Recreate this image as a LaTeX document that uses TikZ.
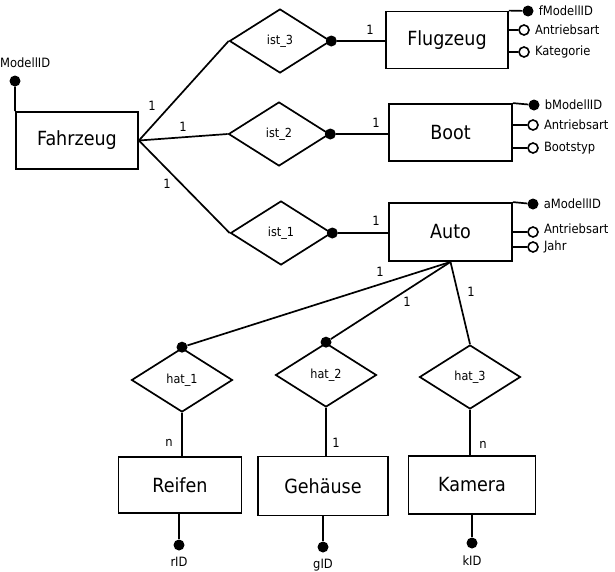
\documentclass[tikz,border=0pt]{standalone}
\usepackage{fontspec}
\setmainfont{DejaVu Sans Condensed}
\usetikzlibrary{shapes.geometric,positioning,calc}

\tikzset{
	entity/.style={draw,line width=1.8pt,inner sep=0,minimum width=122pt,minimum height=57pt,font=\fontsize{19.5}{22}\selectfont},
	relation/.style={draw,diamond,line width=1.7pt,inner sep=0,minimum width=101pt,minimum height=64pt,font=\fontsize{12.5}{14}\selectfont},
	keydot/.style={circle,fill,inner sep=0,minimum size=11pt},
	attdot/.style={circle,draw,fill=white,line width=1.6pt,inner sep=0,minimum size=10pt},
	attlabel/.style={font=\fontsize{12.8}{15}\selectfont,inner sep=0},
	card/.style={font=\fontsize{12.8}{15}\selectfont,inner sep=0},
	conn/.style={line width=1.7pt}
}

\begin{document}
\begin{tikzpicture}[x=1pt,y=-1pt]
	\useasboundingbox (0,0) rectangle (615,571);

	%entities
	\node[entity] (fahrzeug) at (77,140.5) {Fahrzeug};
	\node[entity] (flugzeug) at (447,40) {Flugzeug};
	\node[entity,minimum width=123pt] (boot) at (450.5,132.5) {Boot};
	\node[entity,minimum width=123pt,minimum height=58pt] (auto) at (450.5,232) {Auto};
	\node[entity,minimum width=123pt,minimum height=56pt] (reifen) at (180,485) {Reifen};
	\node[entity,minimum width=130pt,minimum height=59pt] (gehaeuse) at (323,486) {Gehäuse};
	\node[entity,minimum width=127pt,minimum height=58pt] (kamera) at (472,485) {Kamera};

	%relations
	\node[relation] (ist3) at (280,41) {ist\_3};
	\node[relation] (ist2) at (279,134) {ist\_2};
	\node[relation] (ist1) at (281,233) {ist\_1};
	\node[relation] (hat1) at (182,380) {hat\_1};
	\node[relation] (hat2) at (326,375) {hat\_2};
	\node[relation] (hat3) at (470,377) {hat\_3};

	%Fahrzeug - ist
	\draw[conn] (fahrzeug.east) -- (ist3.west);
	\draw[conn] (fahrzeug.east) -- (ist2.west);
	\draw[conn] (fahrzeug.east) -- (ist1.west);
	\node[card] at (152,106) {1};
	\node[card] at (183,127) {1};
	\node[card] at (167,184) {1};

	%ist - subtypes
	\node[keydot] (d3) at (ist3.east) {};
	\node[keydot] (d2) at (ist2.east) {};
	\node[keydot] (d1) at (ist1.east) {};
	\draw[conn] (d3) -- (d3 -| flugzeug.west);
	\draw[conn] (d2) -- (d2 -| boot.west);
	\draw[conn] (d1) -- (d1 -| auto.west);
	\node[card] at (370,30) {1};
	\node[card] at (376,123) {1};
	\node[card] at (376,221) {1};

	%Auto - hat
	\node[keydot] (h1) at (hat1.north) {};
	\node[keydot] (h2) at (hat2.north) {};
	\draw[conn] (auto.south) -- (h1);
	\draw[conn] (auto.south) -- (h2);
	\draw[conn] (auto.south) -- (hat3.north);
	\node[card] at (380,272) {1};
	\node[card] at (407,302) {1};
	\node[card] at (471,292) {1};

	%hat - parts
	\draw[conn] (hat1.south) -- (hat1.south |- reifen.north);
	\draw[conn] (hat2.south) -- (hat2.south |- gehaeuse.north);
	\draw[conn] (hat3.south) -- (hat3.south |- kamera.north);
	\node[card] at (169,443) {n};
	\node[card] at (336,443) {1};
	\node[card] at (483,445) {n};

	%Fahrzeug attributes
	\node[keydot] (mid) at (15,81) {};
	\draw[conn] (mid) -- (fahrzeug.north west);
	\node[attlabel,anchor=west] at (0,63) {ModellID};

	%Flugzeug attributes
	\node[keydot] (fid) at (528,11) {};
	\node[attdot] (fant) at (524,30) {};
	\node[attdot] (fkat) at (524,52) {};
	\draw[conn] (flugzeug.north east) -- (fid);
	\draw[conn] (fant) -- (fant -| flugzeug.east);
	\draw[conn] (fkat) -- (fkat -| flugzeug.east);
	\node[attlabel,right=5pt of fid] {fModellID};
	\node[attlabel,right=5pt of fant] {Antriebsart};
	\node[attlabel,right=5pt of fkat] {Kategorie};

	%Boot attributes
	\node[keydot] (bid) at (534,105) {};
	\node[attdot] (bant) at (533,125) {};
	\node[attdot] (btyp) at (533,148) {};
	\draw[conn] (boot.north east) -- (bid);
	\draw[conn] (bant) -- (bant -| boot.east);
	\draw[conn] (btyp) -- (btyp -| boot.east);
	\node[attlabel,right=5pt of bid] {bModellID};
	\node[attlabel,right=5pt of bant] {Antriebsart};
	\node[attlabel,right=5pt of btyp] {Bootstyp};

	%Auto attributes
	\node[keydot] (aid) at (533,204) {};
	\node[attdot] (aant) at (533,232) {};
	\node[attdot] (ajahr) at (533,247) {};
	\draw[conn] (auto.north east) -- (aid);
	\draw[conn] (aant) -- (aant -| auto.east);
	\draw[conn] (ajahr) -- (ajahr -| auto.east);
	\node[attlabel,right=5pt of aid] {aModellID};
	\node[attlabel,right=5pt of aant,yshift=3pt] {Antriebsart};
	\node[attlabel,right=5pt of ajahr] {Jahr};

	%keys of parts
	\node[keydot] (rid) at (179,545) {};
	\node[keydot] (gid) at (323,547) {};
	\node[keydot] (kid) at (472,543) {};
	\draw[conn] (reifen.south -| rid) -- (rid);
	\draw[conn] (gehaeuse.south -| gid) -- (gid);
	\draw[conn] (kamera.south -| kid) -- (kid);
	\node[attlabel,below=6pt of rid] {rID};
	\node[attlabel,below=6pt of gid] {gID};
	\node[attlabel,below=7pt of kid] {kID};
\end{tikzpicture}
\end{document}
